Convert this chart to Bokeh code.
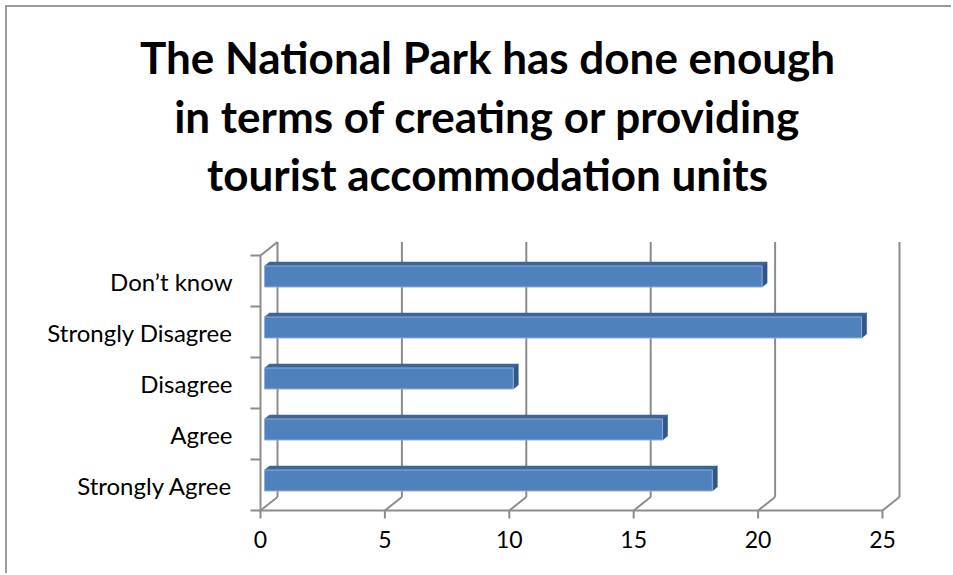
from bokeh.plotting import figure
from bokeh.models import FixedTicker, ColumnDataSource, Range1d
from bokeh.core.properties import value
from bokeh.embed import file_html
from bokeh.resources import INLINE

# ---------------- data ----------------
categories = ["Strongly Agree", "Agree", "Disagree", "Strongly Disagree", "Don\u2019t know"]
counts = [18, 16, 10, 24, 20]
x_ticks = [0, 5, 10, 15, 20, 25]
title_lines = [
    "The National Park has done enough",
    "in terms of creating or providing",
    "tourist accommodation units",
]

# ---------------- layout (page pixels) ----------------
OFF = 7                      # page border (margin 5 + border 2)
W, H = 953 - OFF, 575 - OFF
FR_L, FR_R, FR_T, FR_B = OFF, 905, OFF, 520
AXIS_PX = 245                # where the category labels end (+ standoff)
X0_PX, X25_PX = 260, 882     # front axis: 0 and 25
YB_PX, YT_PX = 510, 255      # front wall bottom / top
PXX = (X25_PX - X0_PX) / x_ticks[-1]
PXY = (YB_PX - YT_PX) / len(categories)


def xd(px):
    return (px - X0_PX) / PXX


def yd(py):
    return (YB_PX - py) / PXY


DX, DY = 17 / PXX, 13.5 / PXY          # depth of the 3D box
BX0, BY0 = 4 / PXX, 4.5 / PXY          # bar front face offset
BDX, BDY = 5 / PXX, 4 / PXY            # bar depth
BH = 10.5 / PXY                        # bar half height

GRID = "#8c8c8c"
FRONT = "#4f81bd"
TOP = "#3d6596"
SIDE = "#30568a"

p = figure(
    width=W, height=H,
    x_range=Range1d(xd(FR_L), xd(FR_R)),
    y_range=Range1d(yd(FR_B), yd(FR_T)),
    output_backend="svg", toolbar_location=None,
    min_border_left=0, min_border_right=953 - FR_R,
    min_border_top=0, min_border_bottom=575 - FR_B,
    styles={"margin-left": "5px", "margin-top": "5px",
            "border-left": "2px solid #9b9b9b", "border-top": "2px solid #9b9b9b"},
)
p.grid.visible = False
p.outline_line_color = None
p.background_fill_color = "white"
p.border_fill_color = "white"

# ---------------- 3D box lines ----------------
n = len(categories)
# back wall vertical gridlines
p.segment(x0=[t + DX for t in x_ticks], y0=[DY] * len(x_ticks),
          x1=[t + DX for t in x_ticks], y1=[n + DY] * len(x_ticks),
          line_color=GRID, line_width=2)
# floor diagonals from front ticks to back wall
p.segment(x0=x_ticks, y0=[0] * len(x_ticks),
          x1=[t + DX for t in x_ticks], y1=[DY] * len(x_ticks),
          line_color=GRID, line_width=2)
# front x axis line and ticks
p.segment(x0=[x_ticks[0]], y0=[0], x1=[x_ticks[-1]], y1=[0], line_color=GRID, line_width=2)
p.segment(x0=x_ticks, y0=[0] * len(x_ticks), x1=x_ticks, y1=[-8 / PXY] * len(x_ticks),
          line_color=GRID, line_width=2)
# left wall front edge, top diagonal, category ticks
p.segment(x0=[0], y0=[0], x1=[0], y1=[n], line_color=GRID, line_width=2)
p.segment(x0=[0], y0=[n], x1=[DX], y1=[n + DY], line_color=GRID, line_width=2)
p.segment(x0=[-10 / PXX] * (n + 1), y0=list(range(n + 1)),
          x1=[0] * (n + 1), y1=list(range(n + 1)), line_color=GRID, line_width=2)

# ---------------- bars ----------------
centers = [i + 0.5 for i in range(n)]
front = ColumnDataSource(dict(
    left=[BX0] * n,
    right=[v + BX0 for v in counts],
    bottom=[c + BY0 - BH for c in centers],
    top=[c + BY0 + BH for c in centers],
))
top_xs, top_ys, side_xs, side_ys = [], [], [], []
for v, c in zip(counts, centers):
    t = c + BY0 + BH
    b = c + BY0 - BH
    r = v + BX0
    top_xs.append([BX0, r, r + BDX, BX0 + BDX])
    top_ys.append([t, t, t + BDY, t + BDY])
    side_xs.append([r, r, r + BDX, r + BDX])
    side_ys.append([b, t, t + BDY, b + BDY])

p.patches(xs=top_xs, ys=top_ys, fill_color=TOP, line_color=TOP, line_width=0.5)
p.patches(xs=side_xs, ys=side_ys, fill_color=SIDE, line_color=SIDE, line_width=0.5)
p.quad(left="left", right="right", bottom="bottom", top="top", source=front,
       fill_color=FRONT, line_color="#8eaedb", line_width=1)

# ---------------- title ----------------
p.text(x=[xd(487)] * 3, y=[yd(56), yd(115), yd(173)], text=title_lines,
       text_align="center", text_baseline="middle",
       text_font=value("Lato"), text_font_size="44px", text_font_style="bold",
       text_color="black")

# ---------------- axes ----------------
p.xaxis.ticker = FixedTicker(ticks=x_ticks)
p.xaxis.axis_line_color = None
p.xaxis.major_tick_line_color = None
p.xaxis.minor_tick_line_color = None
p.xaxis.major_label_standoff = 4
p.xaxis.major_label_text_font = "Lato"
p.xaxis.major_label_text_font_size = "23px"
p.xaxis.major_label_text_color = "black"

p.yaxis.fixed_location = xd(AXIS_PX)
p.yaxis.ticker = FixedTicker(ticks=centers)
p.yaxis.major_label_overrides = {c: lab for c, lab in zip(centers, categories)}
p.yaxis.axis_line_color = None
p.yaxis.major_tick_line_color = None
p.yaxis.minor_tick_line_color = None
p.yaxis.major_label_standoff = 7
p.yaxis.major_label_text_font = "Lato"
p.yaxis.major_label_text_font_size = "24px"
p.yaxis.major_label_text_color = "black"

open("out.html", "w").write(file_html(p, INLINE))
